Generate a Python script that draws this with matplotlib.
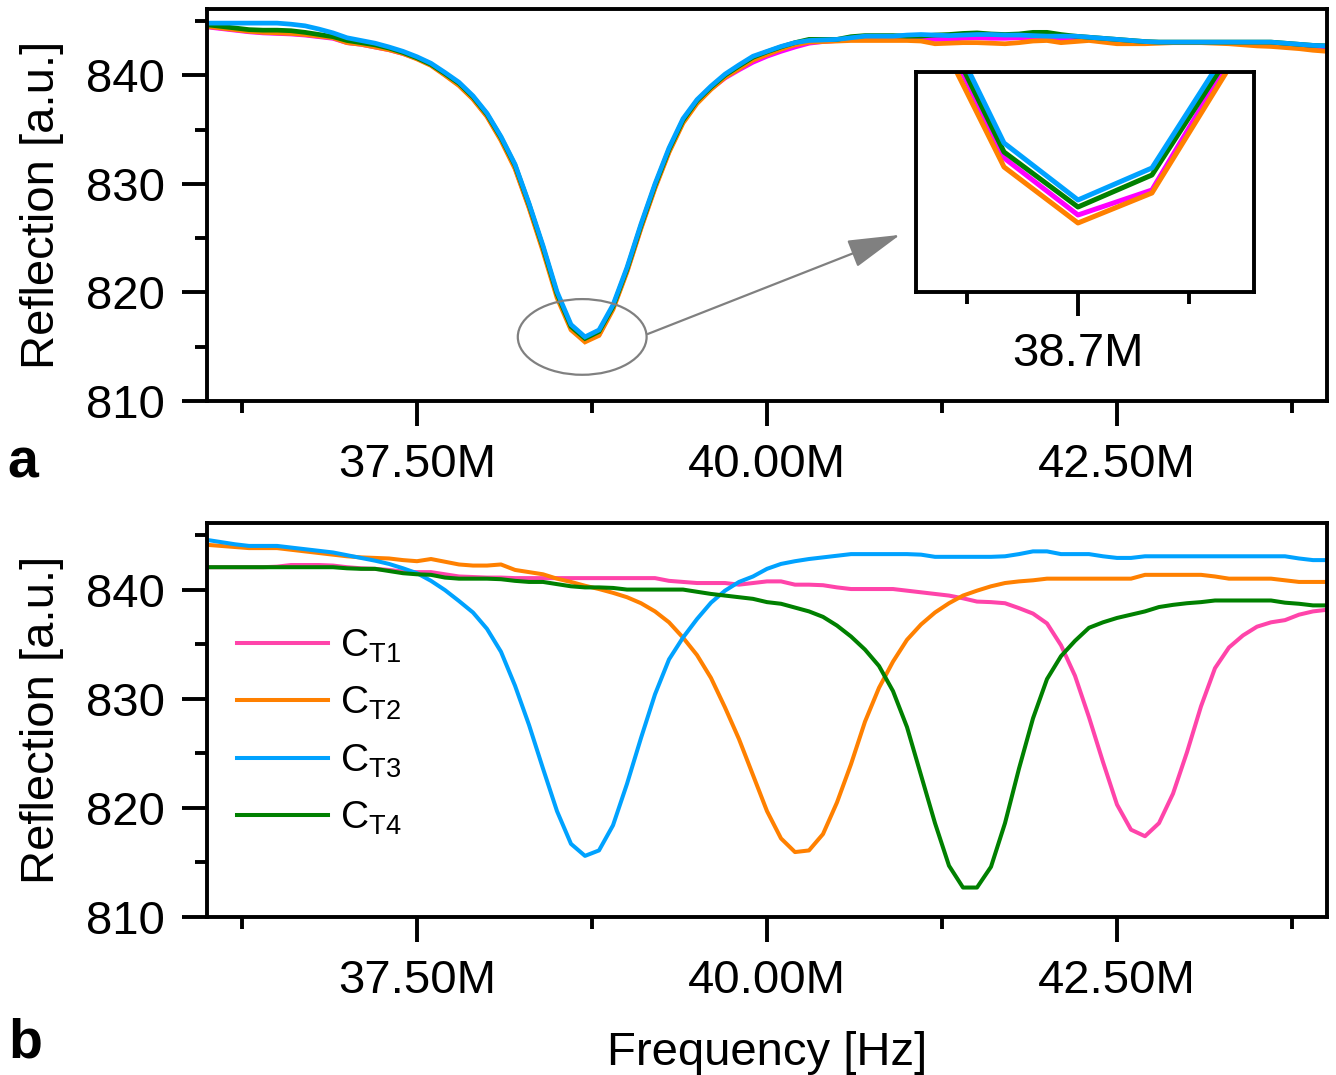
import numpy as np
import matplotlib
matplotlib.use('Agg')
import matplotlib.pyplot as plt
from matplotlib.patches import Ellipse
from matplotlib.ticker import FixedLocator, FuncFormatter, NullFormatter

plt.rcParams['font.family'] = ['Liberation Sans', 'DejaVu Sans']
plt.rcParams['mathtext.fontset'] = 'custom'
plt.rcParams['mathtext.rm'] = 'Liberation Sans'
plt.rcParams['mathtext.it'] = 'Liberation Sans:italic'
plt.rcParams['mathtext.bf'] = 'Liberation Sans:bold'

# ---------------- data ----------------
FREQ_MHZ = np.linspace(36.0, 44.0, 81)   # sample grid, 0.1 MHz step

LABELS = [r'$\mathrm{C}_{\mathrm{T1}}$', r'$\mathrm{C}_{\mathrm{T2}}$',
          r'$\mathrm{C}_{\mathrm{T3}}$', r'$\mathrm{C}_{\mathrm{T4}}$']

# panel a (aligned resonances)
TOP_T1 = [844.45, 844.3, 844.15, 844.0, 843.9, 843.85, 843.8, 843.7, 843.55, 843.4,
          843.0, 842.85, 842.6, 842.35, 842.0, 841.55, 840.95, 840.05, 839.1, 837.85,
          836.25, 834.1, 831.5, 827.9, 824.0, 819.76, 816.74, 815.6, 816.1, 818.58,
          822.0, 826.0, 829.7, 833.0, 835.7, 837.5, 838.75, 839.75, 840.5, 841.2,
          841.75, 842.2, 842.6, 842.95, 843.1, 843.2, 843.3, 843.35, 843.35, 843.35,
          843.4, 843.4, 843.3, 843.3, 843.4, 843.45, 843.4, 843.4, 843.45, 843.45,
          843.4, 843.3, 843.3, 843.3, 843.2, 843.1, 843.05, 843.0, 843.0, 843.0,
          843.0, 843.0, 843.0, 843.0, 843.0, 843.0, 842.9, 842.8, 842.7, 842.6,
          842.45]
TOP_T2 = [844.5, 844.35, 844.2, 844.05, 843.95, 843.9, 843.85, 843.75, 843.6, 843.45,
          843.0, 842.85, 842.6, 842.35, 842.0, 841.5, 840.9, 840.0, 839.05, 837.8,
          836.2, 834.0, 831.4, 827.8, 823.8, 819.53, 816.56, 815.44, 816.04, 818.44,
          821.9, 825.9, 829.6, 832.9, 835.6, 837.4, 838.7, 839.8, 840.6, 841.4,
          841.9, 842.4, 842.8, 843.05, 843.1, 843.15, 843.2, 843.2, 843.2, 843.2,
          843.2, 843.15, 842.9, 842.95, 843.0, 843.0, 842.95, 842.9, 843.0, 843.15,
          843.2, 843.0, 843.1, 843.2, 843.05, 842.9, 842.9, 842.9, 842.95, 843.0,
          843.0, 843.0, 842.95, 842.9, 842.8, 842.7, 842.65, 842.55, 842.45, 842.3,
          842.2]
TOP_T3 = [844.8, 844.8, 844.8, 844.8, 844.8, 844.8, 844.7, 844.55, 844.25, 843.9,
          843.45, 843.2, 842.95, 842.6, 842.2, 841.7, 841.1, 840.25, 839.35, 838.1,
          836.5, 834.35, 831.8, 828.2, 824.3, 820.06, 817.04, 815.9, 816.54, 818.85,
          822.3, 826.3, 830.0, 833.3, 836.0, 837.75, 839.0, 840.1, 840.95, 841.75,
          842.2, 842.65, 843.0, 843.2, 843.25, 843.3, 843.45, 843.6, 843.6, 843.6,
          843.7, 843.75, 843.7, 843.65, 843.7, 843.75, 843.75, 843.7, 843.7, 843.65,
          843.6, 843.6, 843.6, 843.5, 843.4, 843.3, 843.2, 843.1, 843.05, 843.05,
          843.05, 843.05, 843.05, 843.05, 843.05, 843.05, 843.05, 842.95, 842.85, 842.75,
          842.7]
TOP_T4 = [844.65, 844.5, 844.35, 844.2, 844.15, 844.15, 844.1, 843.95, 843.75, 843.55,
          843.2, 843.0, 842.8, 842.5, 842.1, 841.6, 841.0, 840.15, 839.25, 838.0,
          836.4, 834.25, 831.7, 828.1, 824.15, 819.88, 816.86, 815.76, 816.4, 818.69,
          822.15, 826.15, 829.85, 833.15, 835.85, 837.65, 838.9, 840.0, 840.85, 841.65,
          842.15, 842.6, 843.0, 843.3, 843.3, 843.3, 843.55, 843.65, 843.65, 843.65,
          843.6, 843.6, 843.7, 843.75, 843.85, 843.9, 843.8, 843.75, 843.8, 843.95,
          843.95, 843.75, 843.6, 843.5, 843.4, 843.3, 843.2, 843.1, 843.05, 843.05,
          843.05, 843.05, 843.05, 843.05, 843.05, 843.05, 843.05, 842.95, 842.85, 842.75,
          842.7]

# panel b (raw resonances)
BOT_T1 = [842.05, 842.05, 842.05, 842.05, 842.05, 842.1, 842.25, 842.25, 842.25, 842.2,
          842.05, 841.95, 841.9, 841.8, 841.65, 841.6, 841.6, 841.4, 841.2, 841.15,
          841.1, 841.1, 841.05, 841.05, 841.05, 841.05, 841.05, 841.05, 841.05, 841.05,
          841.05, 841.05, 841.05, 840.8, 840.7, 840.6, 840.6, 840.6, 840.45, 840.6,
          840.75, 840.75, 840.45, 840.45, 840.4, 840.2, 840.05, 840.05, 840.05, 840.05,
          839.9, 839.75, 839.6, 839.45, 839.2, 838.9, 838.85, 838.75, 838.3, 837.8,
          836.9, 834.9, 832.1, 828.3, 824.2, 820.3, 818.0, 817.4, 818.6, 821.3,
          825.1, 829.3, 832.8, 834.7, 835.8, 836.6, 837.0, 837.2, 837.7, 838.0,
          838.15]
BOT_T2 = [844.1, 844.0, 843.9, 843.8, 843.8, 843.8, 843.65, 843.5, 843.35, 843.2,
          843.05, 842.95, 842.9, 842.85, 842.7, 842.6, 842.8, 842.55, 842.3, 842.2,
          842.2, 842.3, 841.8, 841.6, 841.4, 841.0, 840.7, 840.35, 840.05, 839.7,
          839.3, 838.75, 838.0, 837.0, 835.6, 834.0, 831.9, 829.2, 826.3, 823.0,
          819.7, 817.2, 815.95, 816.1, 817.6, 820.5, 824.0, 827.9, 831.0, 833.4,
          835.4, 836.8, 837.9, 838.75, 839.45, 839.9, 840.3, 840.6, 840.75, 840.85,
          841.0, 841.0, 841.0, 841.0, 841.0, 841.0, 841.0, 841.35, 841.35, 841.35,
          841.35, 841.35, 841.2, 841.0, 841.0, 841.0, 841.0, 840.85, 840.7, 840.7,
          840.7]
BOT_T3 = [844.55, 844.35, 844.15, 844.0, 844.0, 844.0, 843.85, 843.7, 843.55, 843.4,
          843.15, 842.9, 842.65, 842.35, 841.95, 841.5, 840.8, 839.95, 838.95, 837.9,
          836.4, 834.3, 831.2, 827.6, 823.6, 819.7, 816.7, 815.6, 816.1, 818.4,
          822.2, 826.4, 830.4, 833.6, 835.6, 837.3, 838.8, 839.9, 840.7, 841.2,
          841.9, 842.35, 842.6, 842.8, 842.95, 843.1, 843.25, 843.25, 843.25, 843.25,
          843.25, 843.2, 843.0, 843.0, 843.0, 843.0, 843.0, 843.05, 843.25, 843.5,
          843.5, 843.25, 843.25, 843.25, 843.05, 842.9, 842.9, 843.05, 843.05, 843.05,
          843.05, 843.05, 843.05, 843.05, 843.05, 843.05, 843.05, 843.05, 842.85, 842.7,
          842.7]
BOT_T4 = [842.05, 842.05, 842.05, 842.05, 842.05, 842.05, 842.05, 842.05, 842.05, 842.05,
          841.95, 841.9, 841.9, 841.7, 841.5, 841.4, 841.35, 841.1, 841.0, 841.0,
          841.0, 840.95, 840.8, 840.7, 840.7, 840.5, 840.3, 840.2, 840.2, 840.15,
          840.0, 840.0, 840.0, 840.0, 840.0, 839.8, 839.6, 839.45, 839.3, 839.15,
          838.85, 838.7, 838.35, 838.0, 837.5, 836.7, 835.7, 834.5, 833.0, 830.7,
          827.4, 823.0, 818.6, 814.7, 812.7, 812.7, 814.6, 818.6, 823.6, 828.2,
          831.8, 833.9, 835.3, 836.5, 837.0, 837.4, 837.7, 838.0, 838.4, 838.6,
          838.75, 838.85, 839.0, 839.0, 839.0, 839.0, 839.0, 838.8, 838.7, 838.55,
          838.55]

X_MAJOR = [37.5, 40.0, 42.5]
X_MINOR = [36.25, 38.75, 41.25, 43.75]
Y_MAJOR = [810, 820, 830, 840]
Y_MINOR = [815, 825, 835, 845]
INSET_MAJOR = [38.7]
INSET_MINOR = [38.55, 38.85]

TOP_COLORS = ['#FF00FF', '#FF8000', '#00A2FF', '#008000']
BOT_COLORS = ['#FF44AA', '#FF8000', '#00A2FF', '#008000']

# ---------------- figure ----------------
W, H = 1336, 1075
fig = plt.figure(figsize=(W / 100, H / 100), dpi=100)

FS = 34
SPINE_LW = 2.8


def style(ax, xmaj, xmin, xfmt):
    for s in ax.spines.values():
        s.set_linewidth(SPINE_LW)
    ax.tick_params(which='both', direction='out', width=SPINE_LW, top=False, right=False,
                   labelsize=FS)
    ax.tick_params(which='major', length=18)
    ax.tick_params(which='minor', length=8.5)
    ax.tick_params(axis='x', which='major', pad=12)
    ax.tick_params(axis='y', which='major', pad=12)
    ax.xaxis.set_major_locator(FixedLocator(xmaj))
    ax.xaxis.set_minor_locator(FixedLocator(xmin))
    ax.xaxis.set_major_formatter(FuncFormatter(xfmt))
    ax.xaxis.set_minor_formatter(NullFormatter())


fmt2 = lambda v, p: f"{v:.2f}M"

ax1 = fig.add_axes([207 / W, 1 - 401 / H, 1120 / W, 392 / H])
ax2 = fig.add_axes([207 / W, 1 - 917 / H, 1120 / W, 394 / H])

top_series = [TOP_T1, TOP_T2, TOP_T3, TOP_T4]
bot_series = [BOT_T1, BOT_T2, BOT_T3, BOT_T4]

for ax in (ax1, ax2):
    style(ax, X_MAJOR, X_MINOR, fmt2)
    ax.set_xlim(36.0, 44.0)
    ax.set_ylim(810, 846.1)
    ax.yaxis.set_major_locator(FixedLocator(Y_MAJOR))
    ax.yaxis.set_minor_locator(FixedLocator(Y_MINOR))
    ax.yaxis.set_minor_formatter(NullFormatter())
    ax.set_ylabel('Reflection [a.u.]', fontsize=FS)
    ax.yaxis.set_label_coords(-0.128, 0.5)

# top panel: draw order T1, T2, T4, T3
for i in (0, 1, 3, 2):
    ax1.plot(FREQ_MHZ, top_series[i], color=TOP_COLORS[i], lw=3.4, solid_joinstyle='miter')

# bottom panel
lines = []
for i in range(4):
    ln, = ax2.plot(FREQ_MHZ, bot_series[i], color=BOT_COLORS[i], lw=2.9, label=LABELS[i])
    lines.append(ln)

ax2.set_xlabel('Frequency [Hz]', fontsize=FS)
ax2.xaxis.set_label_coords(0.5, -0.29)

leg = ax2.legend(handles=lines, loc='upper left', bbox_to_anchor=(0.027, 0.735),
                 frameon=False, fontsize=28, handlelength=2.34, handletextpad=0.3,
                 labelspacing=0.52, borderaxespad=0, borderpad=0)

# ellipse + arrow
ax1.add_patch(Ellipse((38.68, 815.9), width=0.92, height=6.97, fill=False,
                      edgecolor='#808080', lw=1.6, zorder=5))
ax1.annotate('', xy=(40.95, 825.3), xytext=(39.148, 816.17),
             arrowprops=dict(arrowstyle='-|>,head_length=1.65,head_width=0.45',
                             color='#808080', lw=1.6, shrinkA=0, shrinkB=0,
                             mutation_scale=20))

# inset
axin = fig.add_axes([916 / W, 1 - 292 / H, 338 / W, 220 / H])
for s in axin.spines.values():
    s.set_linewidth(SPINE_LW)
axin.tick_params(which='both', direction='out', width=SPINE_LW, top=False, right=False,
                 left=False, labelleft=False, labelsize=FS)
axin.tick_params(which='major', length=17, pad=12)
axin.tick_params(which='minor', length=8.5)
axin.xaxis.set_major_locator(FixedLocator(INSET_MAJOR))
axin.xaxis.set_minor_locator(FixedLocator(INSET_MINOR))
axin.xaxis.set_major_formatter(FuncFormatter(lambda v, p: f"{v:.1f}M"))
axin.xaxis.set_minor_formatter(NullFormatter())
axin.set_yticks([])
for i in (0, 1, 3, 2):
    axin.plot(FREQ_MHZ, top_series[i], color=TOP_COLORS[i], lw=3.6)
axin.set_xlim(38.481, 38.938)
axin.set_ylim(814.06, 818.46)

# panel letters
fig.text(7 / W, 1 - 477 / H, 'a', fontsize=40, fontweight='bold', va='baseline', ha='left')
fig.text(8 / W, 1 - 1057 / H, 'b', fontsize=40, fontweight='bold', va='baseline', ha='left')

fig.savefig('out.png', dpi=100)
